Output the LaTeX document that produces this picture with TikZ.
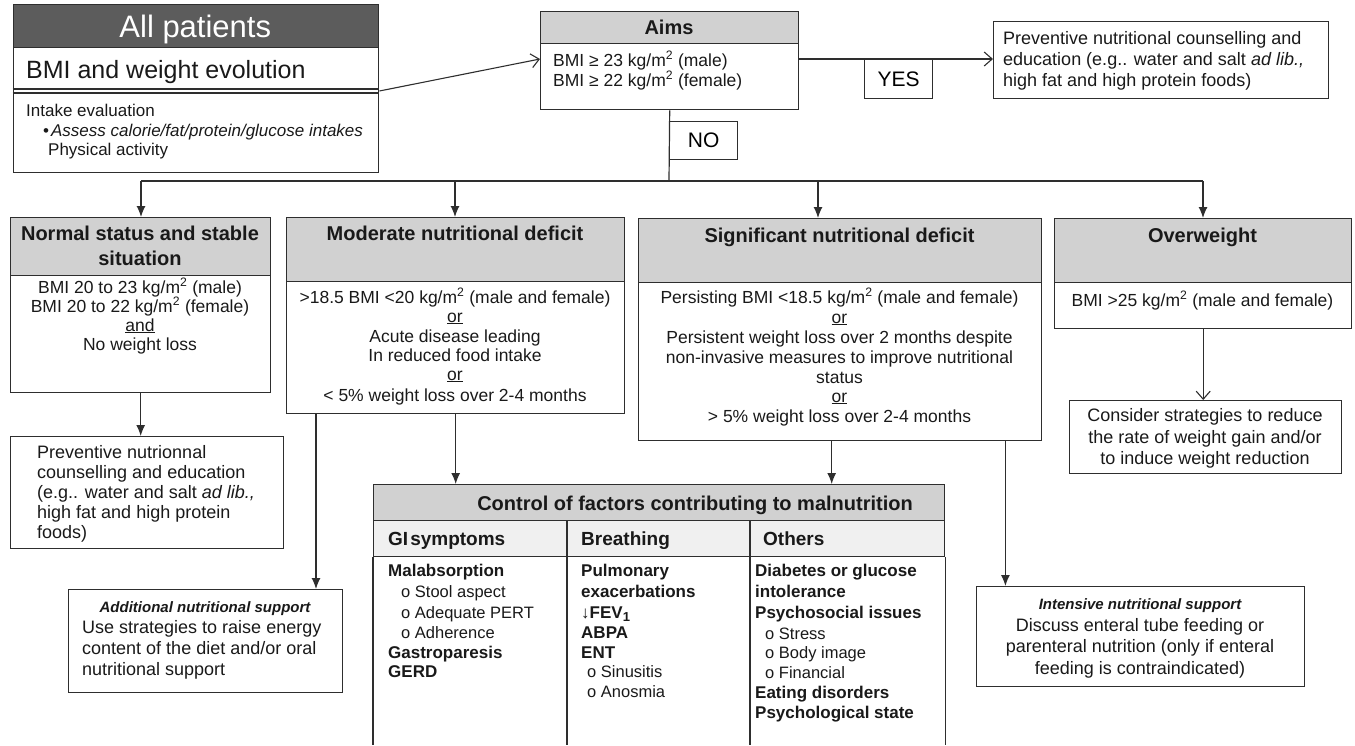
\documentclass[tikz,border=0pt]{standalone}
\usepackage{fontspec}
\setmainfont{Liberation Sans}
\usetikzlibrary{arrows.meta}
\definecolor{hg}{HTML}{D1D1D1}
\definecolor{sg}{HTML}{F0F0F0}
\definecolor{dg}{HTML}{5C5C5C}
\definecolor{lc}{HTML}{2E2E2E}
\newcommand\fs[1]{\fontsize{#1}{#1}\selectfont}
\newcommand\msup[1]{\textsuperscript{#1}}
\newcommand\mysub[1]{\raisebox{-0.35ex}{\fontsize{13}{13}\selectfont #1}}
\begin{document}
\begin{tikzpicture}[x=1pt,y=-1pt,
  bx/.style={draw=lc,line width=1.4pt,inner sep=0pt,anchor=north west},
  hd/.style={bx,fill=hg},
  tx/.style={inner sep=0pt,anchor=base,text=black!90},
  tl/.style={tx,anchor=base west},
  conn/.style={draw=lc,line width=1.2pt},
  arr/.style={conn,-{Latex[length=11pt,width=9pt]}},
  oarr/.style={draw=lc,line width=1.1pt,-{Straight Barb[length=8pt,width=14pt]}},
  bt/.style={tx,font=\fs{17.5}},
  bh/.style={tx,font=\bfseries\fs{20}},
]
\useasboundingbox (0,0) rectangle (1355,745);

% ---------- All patients
\node[bx,minimum width=365.3pt,minimum height=168pt] (allp) at (12.7,4) {};
\node[bx,fill=dg,minimum width=365.3pt,minimum height=43pt] (allhead) at (12.7,4) {};
\node[tx,text=white,font=\fs{31}] (allt) at (195.3,37) {All patients};
\draw[conn] ([yshift=-85pt]allp.north west) -- ([yshift=-85pt]allp.north east);
\draw[conn] ([yshift=-89pt]allp.north west) -- ([yshift=-89pt]allp.north east);
\node[tl,font=\fs{25}] (bmiw) at (26,78) {BMI and weight evolution};
\node[tl,font=\fs{17}] (ie) at (26,116) {Intake evaluation};
\node[tl,font=\fs{17}] (as) at (43,136) {•\hspace{2pt}\textit{Assess calorie/fat/protein/glucose intakes}};
\node[tl,font=\fs{17}] (pa) at (48,155) {Physical activity};

% ---------- Aims
\node[hd,minimum width=258pt,minimum height=32pt] (aimsh) at (540,11) {};
\node[bx,minimum width=258pt,minimum height=66pt] (aimsb) at (540,43) {};
\node[bh] (aimst) at (669,34) {Aims};
\node[tl,font=\fs{17.5}] (a1) at (553,66) {BMI ≥ 23 kg/m\msup{2} (male)};
\node[tl,font=\fs{17.5}] (a2) at (553,86) {BMI ≥ 22 kg/m\msup{2} (female)};
\draw[oarr] ([yshift=-87pt]allp.north east) -- ([yshift=-48pt]aimsh.north west);

% ---------- YES branch
\node[bx,minimum width=68pt,minimum height=39pt,font=\fs{21}] (yes) at (864,59) {YES};
\node[bx,minimum width=335pt,minimum height=77pt] (prevt) at (993,21) {};
\node[tl,font=\fs{18}] (p1) at (1003,44) {Preventive nutritional counselling and};
\node[tl,font=\fs{18}] (p2) at (1003,65) {education (e.g.. water and salt \textit{ad lib.,}};
\node[tl,font=\fs{18}] (p3) at (1003,86) {high fat and high protein foods)};
\coordinate (yl) at ([yshift=-16pt]aimsb.north east);
\draw[oarr] (yl) -- (yl -| prevt.west);

% ---------- NO branch
\coordinate (br) at (669,181);
\draw[conn] (aimsb.south) -- (br);
\node[bx,minimum width=68pt,minimum height=38pt,font=\fs{21}] (no) at (669,121) {NO};
\coordinate (bl) at (141,181);
\coordinate (bm) at (455,181);
\coordinate (bs) at (818,181);
\coordinate (brr) at (1203,181);
\draw[conn] (bl) -- (brr);

% ---------- Normal status
\node[hd,minimum width=260pt,minimum height=58pt] (normh) at (10,217) {};
\node[bx,minimum width=260pt,minimum height=117pt] (normb) at (10,275) {};
\node[bh] (nh1) at (140,240) {Normal status and stable};
\node[bh] (nh2) at (140,265) {situation};
\node[bt] (n1) at (140,293) {BMI 20 to 23 kg/m\msup{2} (male)};
\node[bt] (n2) at (140,312) {BMI 20 to 22 kg/m\msup{2} (female)};
\node[bt] (n3) at (140,331) {\underline{and}};
\node[bt] (n4) at (140,350) {No weight loss};
\draw[arr] (bl) -- (bl |- normh.north);

% ---------- Moderate
\node[hd,minimum width=338pt,minimum height=64pt] (modh) at (286,217) {};
\node[bx,minimum width=338pt,minimum height=132pt] (modb) at (286,281) {};
\node[bh] (mh) at (455,240) {Moderate nutritional deficit};
\node[bt] (m1) at (455,303) {>18.5 BMI <20 kg/m\msup{2} (male and female)};
\node[bt] (m2) at (455,322) {\underline{or}};
\node[bt] (m3) at (455,342) {Acute disease leading};
\node[bt] (m4) at (455,361) {In reduced food intake};
\node[bt] (m5) at (455,380) {\underline{or}};
\node[bt] (m6) at (455,401) {< 5\% weight loss over 2-4 months};
\draw[arr] (bm) -- (bm |- modh.north);

% ---------- Significant
\node[hd,minimum width=403pt,minimum height=64pt] (sigh) at (638,218) {};
\node[bx,minimum width=403pt,minimum height=158pt] (sigb) at (638,282) {};
\node[bh] (sh) at (839.5,242) {Significant nutritional deficit};
\node[bt] (s1) at (839.5,303) {Persisting BMI <18.5 kg/m\msup{2} (male and female)};
\node[bt] (s2) at (839.5,323) {\underline{or}};
\node[bt] (s3) at (839.5,343) {Persistent weight loss over 2 months despite};
\node[bt] (s4) at (839.5,363) {non-invasive measures to improve nutritional};
\node[bt] (s5) at (839.5,383) {status};
\node[bt] (s6) at (839.5,402) {\underline{or}};
\node[bt] (s7) at (839.5,422) {> 5\% weight loss over 2-4 months};
\draw[arr] (bs) -- (bs |- sigh.north);

% ---------- Overweight
\node[hd,minimum width=297pt,minimum height=64pt] (owh) at (1054,218) {};
\node[bx,minimum width=297pt,minimum height=46pt] (owb) at (1054,282) {};
\node[bh] (oh) at (1202.5,242) {Overweight};
\node[bt] (o1) at (1202.5,306) {BMI >25 kg/m\msup{2} (male and female)};
\draw[arr] (brr) -- (brr |- owh.north);

\node[bx,minimum width=272pt,minimum height=73pt] (cons) at (1069,400) {};
\node[tx,font=\fs{18}] (c1) at (1205,421) {Consider strategies to reduce};
\node[tx,font=\fs{18}] (c2) at (1205,443) {the rate of weight gain and/or};
\node[tx,font=\fs{18}] (c3) at (1205,464) {to induce weight reduction};
\draw[oarr] (owb.south) -- (owb.south |- cons.north);

% ---------- Preventive nutrionnal
\node[bx,minimum width=273pt,minimum height=112pt] (prevn) at (10,436) {};
\node[tl,font=\fs{18}] (q1) at (37,458) {Preventive nutrionnal};
\node[tl,font=\fs{18}] (q2) at (37,478) {counselling and education};
\node[tl,font=\fs{18}] (q3) at (37,498) {(e.g.. water and salt \textit{ad lib.,}};
\node[tl,font=\fs{18}] (q4) at (37,518) {high fat and high protein};
\node[tl,font=\fs{18}] (q5) at (37,538) {foods)};
\draw[arr] (normb.south) -- (normb.south |- prevn.north);

% ---------- Additional nutritional support
\node[bx,minimum width=274pt,minimum height=103pt] (addn) at (68,589) {};
\node[tx,font=\bfseries\itshape\fs{15}] (ad0) at (205,612) {Additional nutritional support};
\node[tl,font=\fs{18}] (ad1) at (82,633) {Use strategies to raise energy};
\node[tl,font=\fs{18}] (ad2) at (82,654) {content of the diet and/or oral};
\node[tl,font=\fs{18}] (ad3) at (82,675) {nutritional support};
\coordinate (ml) at ([xshift=30pt]modb.south west);
\draw[arr] (ml) -- (ml |- addn.north);

% ---------- Intensive nutritional support
\node[bx,minimum width=328pt,minimum height=100pt] (intn) at (976,586) {};
\node[tx,font=\bfseries\itshape\fs{15}] (in0) at (1140,609) {Intensive nutritional support};
\node[tx,font=\fs{18}] (in1) at (1140,631) {Discuss enteral tube feeding or};
\node[tx,font=\fs{18}] (in2) at (1140,652) {parenteral nutrition (only if enteral};
\node[tx,font=\fs{18}] (in3) at (1140,674) {feeding is contraindicated)};
\coordinate (sr) at ([xshift=-37pt]sigb.south east);
\draw[arr] (sr) -- (sr |- intn.north);

% ---------- Table
\node[hd,minimum width=571pt,minimum height=36pt] (tblh) at (373,484) {};
\node[bx,fill=sg,minimum width=571pt,minimum height=36pt] (tsub) at (373,520) {};
\coordinate (cA) at (567,520);
\coordinate (cB) at (750,520);
\draw[conn,line width=1.4pt] (tsub.south west) -- (tsub.south west |- 0,745);
\draw[conn,line width=1.4pt] (tsub.south east) -- (tsub.south east |- 0,745);
\draw[conn,line width=1.2pt] (cA) -- (cA |- 0,745);
\draw[conn,line width=1.2pt] (cB) -- (cB |- 0,745);
\node[tx,font=\bfseries\fs{20}] (tt) at (695,510) {Control of factors contributing to malnutrition};
\node[tl,font=\bfseries\fs{19}] (th1) at (388,545) {GI\kern2pt symptoms};
\node[tl,font=\bfseries\fs{19}] (th2) at (581,545) {Breathing};
\node[tl,font=\bfseries\fs{19}] (th3) at (763,545) {Others};
\draw[arr] (modb.south) -- (modb.south |- tblh.north);
\coordinate (sc) at ([xshift=-8.5pt]sigb.south);
\draw[arr] (sc) -- (sc |- tblh.north);

\begin{scope}[every node/.style={tl,font=\bfseries\fs{17}}]
\node (g1) at (388,576) {Malabsorption};
\node (g5) at (388,658) {Gastroparesis};
\node (g6) at (388,677) {GERD};
\node (b1) at (581,576) {Pulmonary};
\node (b2) at (581,597) {exacerbations};
\node (b3) at (581,618) {↓FEV\mysub{1}};
\node (b4) at (581,638) {ABPA};
\node (b5) at (581,658) {ENT};
\node (o1x) at (755,576) {Diabetes or glucose};
\node (o2x) at (755,597) {intolerance};
\node (o3x) at (755,618) {Psychosocial issues};
\node (o7x) at (755,698) {Eating disorders};
\node (o8x) at (755,718) {Psychological state};
\end{scope}
\begin{scope}[every node/.style={tl,font=\fs{16.5}}]
\node (g2) at (401,597) {o Stool aspect};
\node (g3) at (401,618) {o Adequate PERT};
\node (g4) at (401,638) {o Adherence};
\node (b6) at (587,677) {o Sinusitis};
\node (b7) at (587,697) {o Anosmia};
\node (o4x) at (765,639) {o Stress};
\node (o5x) at (765,658) {o Body image};
\node (o6x) at (765,678) {o Financial};
\end{scope}
\end{tikzpicture}
\end{document}
